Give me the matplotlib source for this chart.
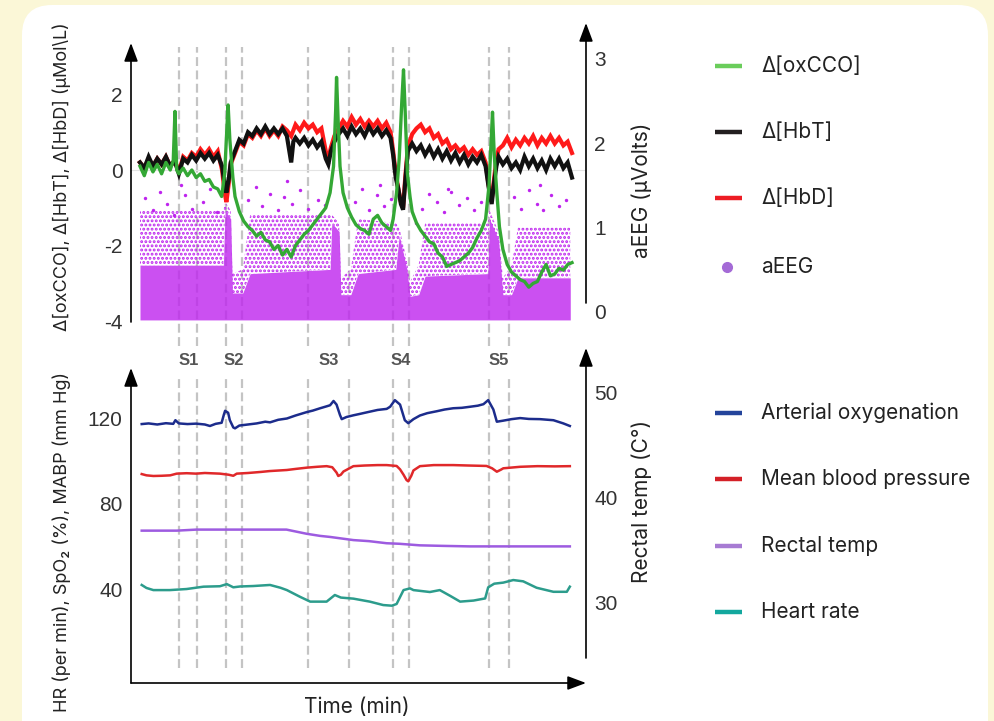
import matplotlib
matplotlib.use('Agg')
import matplotlib.pyplot as plt
from matplotlib.patches import FancyBboxPatch, FancyArrowPatch
from matplotlib.lines import Line2D
from matplotlib.transforms import IdentityTransform

plt.rcParams['font.family'] = ['Inter', 'DejaVu Sans']
plt.rcParams['hatch.linewidth'] = 1.4
plt.rcParams['axes.unicode_minus'] = False

# ---------------- data (time in min) ----------------
events = [9.1, 13.3, 19.9, 23.7, 38.8, 48.3, 58.5, 62.3, 80.7, 85.5]
event_names = ['S1', 'S2', 'S3', 'S4', 'S5']
event_label_t = [11.2, 21.8, 43.6, 60.4, 83.1]

# Δ[HbT] and Δ[HbD] (µMol/L)
hb_t = [0, 1, 2, 3, 4, 5, 6, 7, 8, 9,
        10, 11, 12, 13, 14, 15, 16, 17, 18, 19,
        19.6, 20.0, 20.6,
        21, 22, 23, 24, 25, 26, 27, 28, 29, 30,
        31, 32, 33, 34, 35, 35.5,
        36, 37, 38, 39, 40, 41, 42, 43, 43.6, 44.2,
        45, 46, 47, 48, 49, 50, 51, 52, 53, 54,
        55, 56, 57, 58, 58.6, 59.2, 59.8, 60.4, 60.9, 61.4,
        62, 63, 64, 65, 66, 67, 68, 69, 70, 71,
        72, 73, 74, 75, 76, 77, 78, 79, 80, 80.7,
        81.4, 82, 82.5, 83, 84, 85, 86, 87, 88, 89,
        90, 91, 92, 93, 94, 95, 96, 97, 98, 99,
        100]
hbt = [0.2, 0.05, 0.35, 0.1, 0.3, 0.15, 0.35, 0.1, 0.25, -0.1,
       0.3, 0.2, 0.4, 0.25, 0.45, 0.3, 0.45, 0.25, 0.4, 0.1,
       -0.4, -0.6, -0.2,
       0.2, 0.5, 0.8, 0.7, 1.0, 0.9, 1.1, 0.95, 1.15, 0.95,
       1.1, 0.95, 1.1, 0.9, 0.2, 0.75,
       0.85, 0.7, 0.85, 0.65, 0.8, 0.6, 0.75, 0.3, 0.15, 0.5,
       0.75, 0.95, 1.1, 0.9, 1.15, 0.95, 1.1, 0.9, 1.15, 0.95,
       1.1, 0.9, 1.05, 0.85, 0.4, -0.2, -0.5, -0.9, -1.05, -0.3,
       0.5, 0.7, 0.5, 0.65, 0.4, 0.6, 0.35, 0.55, 0.3, 0.5,
       0.25, 0.45, 0.2, 0.4, 0.15, 0.35, 0.2, 0.4, 0.1, -0.45,
       -0.9, -0.3, 0.1, 0.35, 0.15, 0.3, 0.05, 0.2, 0.0, 0.35,
       0.1, 0.3, 0.05, 0.25, 0.0, 0.3, 0.1, 0.3, 0.05, 0.2,
       -0.2]
hbd = [0.2, 0.05, 0.3, 0.1, 0.3, 0.15, 0.35, 0.1, 0.25, -0.05,
       0.35, 0.25, 0.45, 0.35, 0.55, 0.4, 0.55, 0.35, 0.5, 0.0,
       -0.6, -0.85, -0.3,
       0.15, 0.45, 0.75, 0.65, 0.95, 0.85, 1.05, 0.9, 1.1, 0.9,
       1.05, 0.9, 1.15, 1.05, 0.9, 1.05,
       1.2, 1.05, 1.25, 1.1, 1.2, 1.0, 1.1, 0.5, 0.3, 0.6,
       0.9, 1.1, 1.3, 1.15, 1.4, 1.2, 1.35, 1.15, 1.3, 1.15,
       1.3, 1.1, 1.25, 1.0, 0.5, -0.1, -0.5, -0.85, -1.0, -0.2,
       0.6, 0.95, 1.1, 1.2, 1.0, 1.1, 0.85, 0.95, 0.7, 0.8,
       0.55, 0.65, 0.5, 0.6, 0.4, 0.55, 0.4, 0.5, 0.2, -0.4,
       -0.8, -0.2, 0.3, 0.55, 0.65, 0.85, 0.6, 0.8, 0.65, 0.85,
       0.7, 0.9, 0.65, 0.85, 0.7, 0.9, 0.7, 0.85, 0.65, 0.75,
       0.45]

# Δ[oxCCO] (µMol/L)
ox_t = [0, 1, 2, 3, 4, 5, 6, 7, 7.7, 8.1,
        8.5, 9, 10, 11, 12, 13, 14, 15, 16, 17,
        18, 18.9, 19.6, 20.2, 20.4, 20.8, 21.5, 22, 23, 24,
        25, 26, 27, 28, 29, 30, 31, 32, 33, 34,
        35, 36, 37, 38, 39, 40, 41, 42, 43, 44,
        44.8, 45.3, 45.5, 45.9, 46.3, 47, 48, 49, 50, 51,
        52, 53, 54, 55, 56, 57, 58, 58.6, 59.4, 60,
        60.6, 61.0, 61.4, 61.9, 62.5, 63, 64, 65, 66, 67,
        68, 69, 70, 71, 72, 73, 74, 75, 76, 77,
        78, 79, 80, 80.8, 81.3, 81.6, 82.0, 82.6, 83.2, 84,
        85, 86, 87, 88, 89, 90, 91, 92, 93, 94,
        95, 96, 97, 98, 99, 100]
oxcco = [0.1, -0.15, 0.2, -0.05, 0.15, -0.1, 0.2, 0.0, 0.25, 1.55,
         0.0, -0.1, 0.05, -0.15, 0.0, -0.2, -0.1, -0.3, -0.25, -0.45,
         -0.5, -0.7, -0.1, 1.3, 1.72, 0.8, -0.2, -0.7, -1.1, -1.35,
         -1.5, -1.6, -1.75, -1.65, -1.85, -1.9, -2.1, -2.0, -2.25, -2.1,
         -2.3, -2.0, -1.85, -1.7, -1.6, -1.45, -1.3, -1.15, -1.0, -0.6,
         0.1, 1.6, 2.45, 1.2, 0.1, -0.6, -1.0, -1.25, -1.45, -1.55,
         -1.6, -1.7, -1.3, -1.2, -1.4, -1.5, -1.6, -1.3, -0.6, 0.3,
         1.8, 2.65, 1.5, -0.1, -0.7, -1.1, -1.4, -1.6, -1.75, -1.9,
         -1.95, -2.2, -2.3, -2.55, -2.5, -2.45, -2.4, -2.3, -2.2, -2.05,
         -1.8, -1.6, -1.3, -0.4, 0.8, 1.53, 0.4, -0.6, -1.5, -2.1,
         -2.5, -2.7, -2.8, -2.9, -2.95, -3.1, -3.0, -2.95, -2.7, -2.5,
         -2.8, -2.75, -2.6, -2.65, -2.5, -2.45]

# aEEG (µVolts): dense band, looser band and stray samples
eeg_t = [0.0, 19.3, 19.7, 21.0, 21.4, 23.8, 25.5, 44.0, 44.4, 46.1,
         46.5, 48.8, 50.5, 59.2, 60.0, 61.8, 62.5, 64.5, 66.0, 80.5,
         80.9, 83.0, 84.0, 86.0, 87.5, 99.6]
eeg_low = [-0.1] * len(eeg_t)
eeg_dense = [0.55, 0.55, 1.2, 1.1, 0.22, 0.22, 0.45, 0.5, 1.05, 0.95,
             0.2, 0.2, 0.45, 0.5, 0.9, 0.5, 0.18, 0.2, 0.42, 0.45,
             1.1, 0.85, 0.2, 0.2, 0.4, 0.4]
eeg_top = [1.2, 1.2, 1.3, 1.2, 0.45, 0.5, 1.15, 1.15, 1.15, 1.05,
           0.4, 0.5, 1.1, 1.05, 1.0, 0.6, 0.35, 0.55, 1.05, 1.05,
           1.2, 0.95, 0.4, 0.55, 1.0, 1.0]
dot_t = [1.2, 2.9, 4.6, 6.3, 7.9, 10.4, 12.1, 14.5, 16.2, 17.8,
         25.0, 26.8, 28.3, 30.0, 31.9, 33.4, 35.2, 37.1, 39.0, 41.3,
         42.9, 49.8, 51.5, 53.1, 54.9, 56.4, 58.0, 65.3, 67.0, 68.8,
         70.4, 72.1, 73.9, 75.6, 77.3, 79.0, 86.6, 88.3, 90.1, 91.8,
         93.4, 95.2, 96.9, 98.5, 9.5, 34.0, 55.6, 71.3, 92.6, 63.9]
dot_v = [1.35, 1.2, 1.42, 1.28, 1.15, 1.38, 1.22, 1.3, 1.45, 1.18,
         1.32, 1.48, 1.25, 1.4, 1.2, 1.36, 1.28, 1.44, 1.22, 1.33,
         1.26, 1.3, 1.45, 1.2, 1.38, 1.25, 1.34, 1.22, 1.4, 1.3,
         1.18, 1.42, 1.27, 1.35, 1.2, 1.3, 1.36, 1.22, 1.44, 1.28,
         1.2, 1.38, 1.25, 1.32, 1.5, 1.55, 1.5, 1.46, 1.5, 1.05]

# SpO2 (%)
spo2_t = [0.4, 2, 4, 6, 7.7, 8.2, 9, 11, 13, 15,
          16.2, 17.5, 18.9, 19.4, 19.7, 20.4, 20.8, 21.6, 22, 23,
          25, 27, 29, 30.1, 32, 34, 36, 38.6, 40, 41.7,
          43.2, 44, 44.8, 45.5, 46.3, 46.7, 47.8, 49.4, 51, 53.2,
          55, 57.1, 57.9, 59, 60.2, 61.3, 62.1, 63.3, 64.8, 66.5,
          68.7, 70.5, 72.5, 74.5, 76.4, 78.2, 79.5, 80.6, 81.8, 82.6,
          84.1, 86, 88, 90, 92.6, 95.7, 98, 99.5]
spo2 = [117.2, 117.5, 117.0, 117.6, 117.3, 119.0, 117.5, 117.2, 117.4, 117.0,
        116.3, 117.3, 117.8, 121.5, 123.4, 122.5, 119.0, 115.6, 115.2, 116.5,
        117.0, 117.5, 118.3, 118.0, 119.2, 119.8, 121.2, 122.8, 123.5, 124.6,
        125.5, 126.0, 128.0, 126.3, 121.4, 119.5, 120.5, 121.3, 122.0, 123.0,
        123.8, 124.3, 125.3, 128.4, 126.3, 119.0, 117.6, 119.5, 121.2, 122.3,
        123.2, 124.0, 124.6, 124.8, 125.3, 125.8, 126.5, 128.4, 124.0, 118.3,
        118.8, 119.5, 120.0, 119.6, 119.5, 119.0, 117.5, 116.3]

# MABP (mm Hg)
mabp_t = [0.4, 1.5, 3.1, 5, 7, 8.5, 10.8, 13, 15, 18.5,
          20.5, 21.6, 22.4, 25, 28, 30, 34, 36, 38.6, 41,
          43.2, 44.5, 45.5, 45.9, 46.5, 47.1, 49.4, 52, 55, 57.1,
          59.4, 60.2, 61, 61.7, 62.1, 62.8, 63.3, 64.8, 68, 72.5,
          76, 80.2, 81.5, 82.6, 83.5, 84.1, 88, 92, 96, 99.5]
mabp = [93.8, 93.2, 92.9, 93.0, 93.2, 94.0, 94.2, 94.0, 94.3, 94.0,
        93.5, 93.0, 94.0, 94.3, 94.8, 95.2, 95.7, 96.2, 96.8, 97.2,
        97.5, 97.0, 94.5, 92.9, 93.5, 95.0, 97.5, 97.8, 98.0, 98.0,
        97.6, 96.0, 93.5, 91.0, 90.4, 93.0, 95.5, 97.5, 98.0, 98.0,
        97.8, 97.6, 96.5, 94.9, 95.8, 96.5, 97.2, 97.5, 97.4, 97.5]

# Rectal temperature (°C)
temp_t = [0.4, 8.5, 13.1, 33.9, 38.6, 41.7, 44, 49.4, 53, 57.1,
          60, 64.8, 70, 76.4, 99.5]
temp = [36.8, 36.8, 36.9, 36.9, 36.5, 36.3, 36.2, 35.9, 35.8, 35.6,
        35.55, 35.4, 35.35, 35.3, 35.3]

# Heart rate (per min)
hr_t = [0.4, 1.5, 3.1, 6.9, 10.8, 14.7, 18.5, 20.1, 21.6, 23.2,
        26.2, 30.1, 32.5, 34, 37, 39.4, 41.7, 43.2, 45.1, 46.5,
        49.4, 53.2, 56.3, 58.3, 59.4, 61, 62.5, 63.3, 67.1, 69.4,
        71.8, 74.1, 77.2, 79.9, 80.6, 82, 84.1, 86.4, 88.7, 91.8,
        95.7, 98.8, 99.5]
hr = [41.9, 40.5, 39.5, 39.5, 40.0, 41.1, 41.3, 42.3, 40.8, 41.2,
      41.4, 41.9, 40.6, 39.5, 36.4, 34.1, 34.1, 34.1, 37.2, 36.0,
      35.5, 34.1, 32.5, 32.2, 33.0, 39.5, 40.3, 39.5, 38.6, 39.5,
      36.8, 34.1, 34.6, 35.6, 40.8, 42.5, 43.0, 44.2, 43.6, 40.6,
      38.7, 38.7, 41.1]

# ---------------- figure ----------------
W, H = 995, 721
fig = plt.figure(figsize=(W / 100, H / 100), dpi=100, facecolor='#FBF7D7')


def fx(px):
    return px / W


def fy(py):
    return 1 - py / H


fig.add_artist(FancyBboxPatch((22, -40), 966, 756, boxstyle='round,pad=0,rounding_size=30',
                              transform=IdentityTransform(), fc='white', ec='none', zorder=-5))

xlim = (-2.08, 103.24)
tick_kw = dict(length=0, pad=6, labelsize=15, labelcolor='#333333', labelfontfamily='Liberation Sans')


def style(ax):
    for s in ax.spines.values():
        s.set_visible(False)
    ax.patch.set_visible(False)
    ax.tick_params(**tick_kw)
    ax.set_xticks([])
    ax.set_xlim(*xlim)


# ── top panel: aEEG axes (right) with hemodynamics twin (left) ──
ax_eeg = fig.add_axes([fx(131), fy(335), fx(586) - fx(131), (335 - 30) / H])
style(ax_eeg)
ax_eeg.set_ylim(-0.279, 3.343)
ax_eeg.set_yticks([0, 1, 2, 3])

for t in events:
    ax_eeg.axvline(t, ymin=-0.035, ymax=0.945, color='#c4c4c4', lw=1.6,
                   ls=(0, (4, 2)), clip_on=False, zorder=0)

purple = '#BE24EE'
ax_eeg.fill_between(eeg_t, eeg_dense, eeg_top, facecolor='none', edgecolor=purple,
                    hatch='....', lw=0, zorder=1)
ax_eeg.fill_between(eeg_t, eeg_low, eeg_dense, color=purple, alpha=0.8, lw=0, zorder=2)
ax_eeg.scatter(dot_t, dot_v, s=6, color=purple, lw=0, zorder=2)

ax_hb = ax_eeg.twinx()
style(ax_hb)
ax_eeg.yaxis.tick_right()
ax_hb.yaxis.tick_left()
ax_hb.set_ylim(-4.365, 3.704)
ax_hb.set_yticks([-4, -2, 0, 2])
ax_hb.axhline(0, color='#e4e4e4', lw=0.8, zorder=0)
ax_hb.plot(hb_t, hbd, color='#FF1A1A', lw=3, solid_joinstyle='miter')
ax_hb.plot(hb_t, hbt, color='#111111', lw=3, solid_joinstyle='miter')
ax_hb.plot(ox_t, oxcco, color='#34A835', lw=2.4)

# ── bottom panel: systemic measures (left) + temperature (right) ──
ax_bp = fig.add_axes([fx(131), fy(683), fx(586) - fx(131), (683 - 345) / H])
style(ax_bp)
ax_bp.set_ylim(-3.98, 154.2)
ax_bp.set_yticks([40, 80, 120])

for t in events:
    ax_bp.axvline(t, ymin=0.044, ymax=0.905, color='#c4c4c4', lw=1.6,
                  ls=(0, (4, 2)), zorder=0)
for name, t in zip(event_names, event_label_t):
    ax_bp.text(t, 0.955, name, transform=ax_bp.get_xaxis_transform(), ha='center', va='center',
               fontsize=12, fontweight='bold', color='#555555', family='Liberation Sans')

ax_bp.plot(spo2_t, spo2, color='#1C2C8C', lw=1.8)
ax_bp.plot(mabp_t, mabp, color='#E0282A', lw=1.8)
ax_bp.plot(hr_t, hr, color='#2C9C8C', lw=1.8)

ax_tp = ax_bp.twinx()
style(ax_tp)
ax_tp.set_ylim(22.29, 54.48)
ax_tp.set_yticks([30, 40, 50])
ax_tp.plot(temp_t, temp, color='#9D5BE0', lw=1.8)


# ── arrow axes ──
def arrow(x0, y0, x1, y1):
    fig.add_artist(FancyArrowPatch((x0, H - y0), (x1, H - y1), transform=IdentityTransform(),
                                   arrowstyle='-|>,head_length=0.8,head_width=0.3',
                                   mutation_scale=14, lw=1.2, color='black',
                                   shrinkA=0, shrinkB=0))


arrow(131, 322, 131, 43)
arrow(586, 303, 586, 23)
arrow(131, 683, 131, 368)
arrow(586, 658, 586, 348)
arrow(131, 683, 586, 683)

# ── axis titles ──
lab = dict(fontsize=15, color='#222222', ha='center', va='center')
side = dict(lab, fontsize=13, rotation=90)
fig.text(fx(62), fy(177), 'Δ[oxCCO], Δ[HbT], Δ[HbD] (µMol\\L)', **side)
fig.text(fx(62), fy(542), 'HR (per min), SpO₂ (%), MABP (mm Hg)', **side)
fig.text(fx(642), fy(190), 'aEEG (µVolts)', rotation=90, **lab)
fig.text(fx(642), fy(501), 'Rectal temp (C°)', rotation=90, **lab)
fig.text(fx(357), fy(707), 'Time (min)', **lab)

# ── legends ──
top_legend = [('Δ[oxCCO]', '#6ACD5B', 66), ('Δ[HbT]', '#231F20', 132),
              ('Δ[HbD]', '#ED1C24', 198)]
bottom_legend = [('Arterial oxygenation', '#24449B', 413), ('Mean blood pressure', '#D42027', 479),
                 ('Rectal temp', '#A77BD3', 546), ('Heart rate', '#13A89E', 612)]
for label, color, y in top_legend + bottom_legend:
    fig.add_artist(Line2D([fx(715), fx(742)], [fy(y), fy(y)], color=color, lw=3.2,
                          solid_capstyle='butt'))
    fig.text(fx(761), fy(y), label, fontsize=15, color='#222222', va='center')
fig.add_artist(Line2D([fx(727)], [fy(267)], marker='o', ms=7, color='#A46AD6', lw=0))
fig.text(fx(761), fy(267), 'aEEG', fontsize=15, color='#222222', va='center')

fig.savefig('out.png', dpi=100, facecolor=fig.get_facecolor())
